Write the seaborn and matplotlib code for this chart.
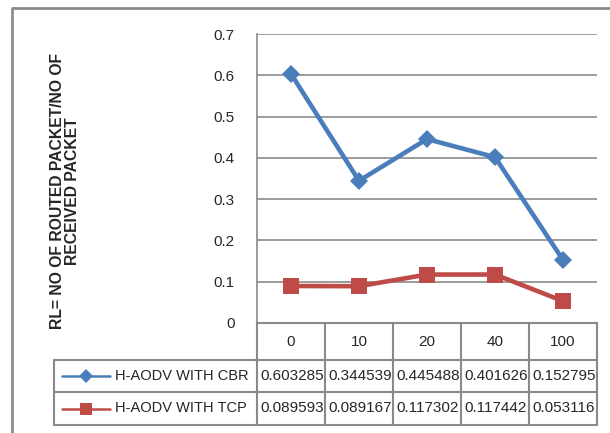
import matplotlib
matplotlib.use("Agg")
import matplotlib.pyplot as plt
from matplotlib.lines import Line2D
from matplotlib import font_manager
import numpy as np
import pandas as pd
import seaborn as sns

# ---- data -------------------------------------------------------------
categories = ["0", "10", "20", "40", "100"]
series_names = ["H-AODV WITH CBR", "H-AODV WITH TCP"]
cbr_values = [0.603285, 0.344539, 0.445488, 0.401626, 0.152795]
tcp_values = [0.089593, 0.089167, 0.117302, 0.117442, 0.053116]
y_ticks = [0, 0.1, 0.2, 0.3, 0.4, 0.5, 0.6, 0.7]
y_label = "RL= NO OF ROUTED PACKET/NO OF\nRECEIVED PACKET"

colors = {series_names[0]: "#4A7EBB", series_names[1]: "#BE4B48"}
markers = {series_names[0]: "D", series_names[1]: "s"}
marker_sizes = {series_names[0]: 9.2, series_names[1]: 11.5}

# ---- fonts ------------------------------------------------------------
sns.set_style("white")
installed = {f.name for f in font_manager.fontManager.ttflist}
if "Liberation Sans Narrow" in installed:
    base_font = ["Liberation Sans Narrow", "DejaVu Sans"]
    fs = 12
else:
    base_font = ["Liberation Sans", "DejaVu Sans"]
    fs = 11
plt.rcParams["font.family"] = base_font

W, H = 610, 433
fig = plt.figure(figsize=(W / 100, H / 100), dpi=100)


def fx(px):
    return px / W


def fy(py):
    return 1 - py / H


# plot area in pixel coordinates
L, R, T, B = 257, 597, 34, 323
ax = fig.add_axes([fx(L), fy(B), fx(R - L), (B - T) / H])

df = pd.DataFrame({
    "pos": list(range(len(categories))) * 2,
    "value": cbr_values + tcp_values,
    "series": [series_names[0]] * len(categories) + [series_names[1]] * len(categories),
})

for name in series_names:
    sub = df[df["series"] == name]
    sns.lineplot(data=sub, x="pos", y="value", color=colors[name],
                 marker=markers[name], markersize=marker_sizes[name],
                 markeredgewidth=0, linewidth=3.3, ax=ax, legend=False,
                 zorder=3)

ax.set_xlim(-0.5, len(categories) - 0.5)
ax.set_ylim(0, 0.7)
ax.set_yticks(y_ticks)
ax.set_yticklabels(["0" if v == 0 else f"{v:.1f}" for v in y_ticks], fontsize=fs)
ax.set_xticks([])
ax.set_xlabel("")
ax.set_ylabel("")
ax.yaxis.grid(True, color="#8a8a8a", linewidth=1.2)
ax.set_axisbelow(True)
ax.tick_params(axis="y", length=3, color="#8a8a8a", pad=13, width=1.2)
for s in ["top", "right"]:
    ax.spines[s].set_visible(False)
ax.spines["left"].set_color("#8a8a8a")
ax.spines["left"].set_linewidth(1.2)
ax.spines["bottom"].set_color("#8a8a8a")
ax.spines["bottom"].set_linewidth(1.5)

fig.text(fx(65), fy(191), y_label, rotation=90, ha="center",
         va="center", fontsize=11.3, fontweight="bold",
         linespacing=1.0, multialignment="center")

# ---- data table under the axis ---------------------------------------
tc = "#8a8a8a"
tw = 1.5
header_bottom, row_mid, table_bottom = 360, 392, 425
legend_left = 54


def hline(y, x0, x1):
    fig.add_artist(Line2D([fx(x0), fx(x1)], [fy(y), fy(y)], color=tc, lw=tw))


def vline(x, y0, y1):
    fig.add_artist(Line2D([fx(x), fx(x)], [fy(y0), fy(y1)], color=tc, lw=tw))


col_w = (R - L) / len(categories)
for i in range(len(categories) + 1):
    vline(L + i * col_w, B, table_bottom)
vline(legend_left, header_bottom, table_bottom)
hline(header_bottom, legend_left, R)
hline(row_mid, legend_left, R)
hline(table_bottom, legend_left, R)

for i, cat in enumerate(categories):
    cx = L + (i + 0.5) * col_w
    fig.text(fx(cx), fy((B + header_bottom) / 2 + 1), cat, ha="center",
             va="center", fontsize=fs)

rows = [(series_names[0], cbr_values, (header_bottom + row_mid) / 2),
        (series_names[1], tcp_values, (row_mid + table_bottom) / 2)]
for name, vals, cy in rows:
    for i, v in enumerate(vals):
        cx = L + (i + 0.5) * col_w
        fig.text(fx(cx + 1), fy(cy), f"{v:.6f}", ha="center", va="center",
                 fontsize=fs)
    fig.add_artist(Line2D([fx(62), fx(110)], [fy(cy), fy(cy)],
                          color=colors[name], lw=1.8))
    fig.add_artist(Line2D([fx(86)], [fy(cy)], color=colors[name],
                          marker=markers[name], markeredgewidth=0,
                          markersize=marker_sizes[name] * 0.72))
    fig.text(fx(115), fy(cy), name, ha="left", va="center", fontsize=fs * 0.96)

# outer chart frame (top and left edges)
fig.add_artist(Line2D([fx(12), fx(12), fx(W)], [fy(H), fy(8), fy(8)],
                      color="#8c8c8c", lw=2))

fig.savefig("out.png", dpi=100)
